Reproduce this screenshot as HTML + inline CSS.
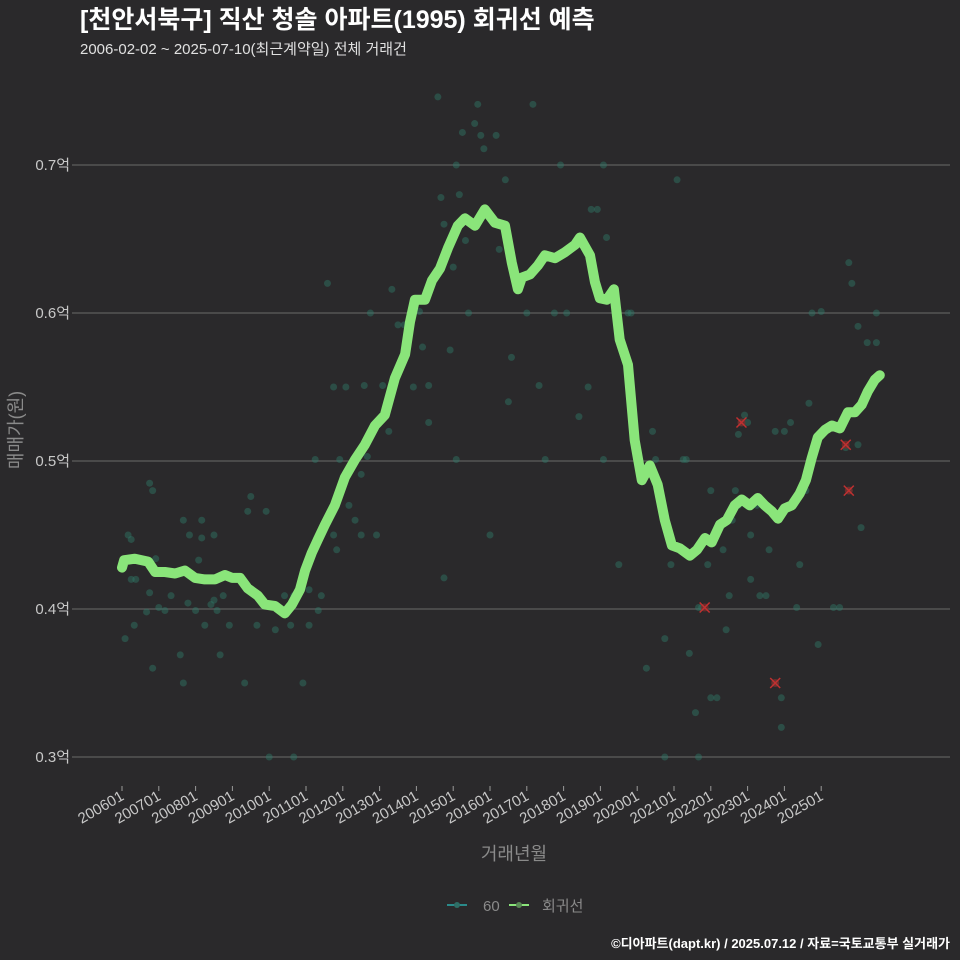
<!DOCTYPE html>
<html><head><meta charset="utf-8"><style>
body{margin:0;background:#2a292b;}
svg{display:block;font-family:"Liberation Sans","Noto Sans CJK KR",sans-serif;}
</style></head><body>
<svg id="chart" width="960" height="960" viewBox="0 0 960 960">
<rect width="960" height="960" fill="#2a292b"/>
<text x="80" y="28" font-size="25" font-weight="bold" fill="#ffffff">[천안서북구] 직산 청솔 아파트(1995) 회귀선 예측</text>
<text x="80" y="54" font-size="15" fill="#e0e0e0">2006-02-02 ~ 2025-07-10(최근계약일) 전체 거래건</text>
<g id="grid"></g><g id="yaxis"></g><g id="xaxis"></g><g id="dots"></g><g id="line"></g><g id="marks"></g>
<text transform="translate(22,430) rotate(-90)" text-anchor="middle" font-size="18" fill="#8a8a8a">매매가(원)</text>
<text x="514" y="860" text-anchor="middle" font-size="18" fill="#8a8a8a">거래년월</text>
<g>
<g><line x1="447" y1="905" x2="467" y2="905" stroke="#2a8a8a" stroke-width="2"/><circle cx="457" cy="905" r="3" fill="#2e6e66"/><text x="483" y="911" font-size="15" fill="#8a8a8a">60</text></g>
<g><line x1="509" y1="905" x2="529" y2="905" stroke="#8ae57a" stroke-width="2"/><circle cx="519" cy="905" r="3" fill="#5a8a55"/><text x="542" y="911" font-size="15" fill="#8a8a8a">회귀선</text></g>
</g>
<text x="950" y="948" text-anchor="end" font-size="13" font-weight="bold" fill="#ffffff">©디아파트(dapt.kr) / 2025.07.12 / 자료=국토교통부 실거래가</text>
</svg>
<script>
// months since 2006-01
const lineMonths=[0,0.7,4.2,8.5,10.8,14,17.3,20.5,23.8,27,30.3,33.6,35.9,38.5,41,44.3,46.6,49.9,53.1,55.4,58,59.7,61.9,63.9,66.2,69.4,72.7,76,79.2,82.5,85.7,89,92.3,93.9,95.5,98.8,101.1,103.7,106.3,109.5,111.8,115.1,118.3,121.6,124.9,127.1,129.1,130.4,133,135.6,137.9,141.2,144.4,147.7,149.3,152.6,154.2,155.8,158.1,160.4,162.3,165,167.2,169.5,172.1,174.7,177,179.3,181.9,185.2,187.5,190.1,192.3,195,197.2,199.8,202.1,204.7,207.3,209.6,211.9,213.9,216.1,218.4,221,223,224.9,226.9,229.2,231.5,234.1,236.7,239,241.2,243.2,245.5,247.1];
const lineValues=[0.428,0.433,0.434,0.432,0.425,0.425,0.424,0.426,0.421,0.420,0.420,0.423,0.421,0.421,0.414,0.409,0.403,0.402,0.397,0.403,0.413,0.426,0.438,0.447,0.457,0.470,0.489,0.501,0.511,0.524,0.531,0.556,0.572,0.594,0.609,0.609,0.622,0.630,0.644,0.659,0.664,0.659,0.670,0.661,0.659,0.634,0.616,0.624,0.626,0.632,0.639,0.637,0.641,0.646,0.651,0.639,0.621,0.610,0.609,0.616,0.582,0.565,0.514,0.487,0.497,0.484,0.460,0.443,0.441,0.436,0.440,0.448,0.445,0.457,0.460,0.470,0.474,0.470,0.475,0.470,0.466,0.461,0.468,0.470,0.478,0.487,0.502,0.516,0.521,0.524,0.522,0.533,0.533,0.538,0.547,0.555,0.558];
const dotMonths=[1,2,3,3,4,4.5,8,9,9,10,10,11,12,14,16,19,20,20,22,21.5,24,25,26,26,27,29,30,30,31,32,33,35,40,41,42,44,47,48,50,53,55,56,56,59,61,61,63,64,65,67,69,69,70,71,73,74,76,78,78,79,80,81,83,85,87,88,90,92,95,97,98,100,100,103,104,105,105,107,108,109,109,110,111,112,113,115,116,117,118,120,122,123,125,126,127,132,134,136,138,141,143,145,149,152,153,155,157,157,158,162,165,166,171,173,174,177,177,179,181,183,184,185,187,188,188,189,191,192,192,194,196,197,198,199,200,201,201,202,203,204,205,205,207,208,210,211,213,213,215,215,216,218,220,221,223,224,225,227,228,232,234,236,237,237,238,240,240,241,243,246,246];
const dotValues=[0.380,0.450,0.447,0.420,0.389,0.420,0.398,0.411,0.485,0.360,0.480,0.434,0.401,0.399,0.409,0.369,0.350,0.460,0.450,0.404,0.399,0.433,0.460,0.448,0.389,0.403,0.450,0.406,0.399,0.369,0.409,0.389,0.350,0.466,0.476,0.389,0.466,0.300,0.386,0.409,0.389,0.300,0.409,0.350,0.413,0.389,0.501,0.399,0.409,0.620,0.450,0.550,0.440,0.501,0.550,0.470,0.460,0.450,0.491,0.551,0.503,0.600,0.450,0.551,0.520,0.616,0.592,0.592,0.550,0.601,0.577,0.551,0.526,0.746,0.678,0.660,0.421,0.575,0.631,0.700,0.501,0.680,0.722,0.649,0.600,0.728,0.741,0.720,0.711,0.450,0.720,0.643,0.690,0.540,0.570,0.600,0.741,0.551,0.501,0.600,0.700,0.600,0.530,0.550,0.670,0.670,0.501,0.700,0.651,0.430,0.600,0.600,0.360,0.520,0.501,0.380,0.300,0.430,0.690,0.501,0.501,0.370,0.330,0.401,0.300,0.401,0.430,0.340,0.480,0.340,0.440,0.386,0.409,0.460,0.480,0.470,0.518,0.526,0.531,0.526,0.420,0.450,0.470,0.409,0.409,0.440,0.520,0.350,0.320,0.340,0.520,0.526,0.401,0.430,0.480,0.539,0.600,0.376,0.601,0.401,0.401,0.509,0.480,0.634,0.620,0.591,0.511,0.455,0.580,0.600,0.580];
const markMonths=[190,202,213,236,237];
const markValues=[0.401,0.526,0.350,0.511,0.480];
const yTicks=[0.3,0.4,0.5,0.6,0.7];
const yTickLabels=["0.3억","0.4억","0.5억","0.6억","0.7억"];
const xTickLabels=["200601","200701","200801","200901","201001","201101","201201","201301","201401","201501","201601","201701","201801","201901","202001","202101","202201","202301","202401","202501"];

const NS="http://www.w3.org/2000/svg";
const xS=m=>122+m*36.8/12;
const yS=v=>757-(v-0.3)*1480;
function mk(tag,attrs,parent){const e=document.createElementNS(NS,tag);for(const k in attrs)e.setAttribute(k,attrs[k]);document.getElementById(parent).appendChild(e);return e;}

yTicks.forEach((v,i)=>{
  const g=mk('line',{x1:72,x2:950,y1:yS(v),y2:yS(v),stroke:'#5e5e5e','stroke-width':1.2},'grid');
  
  
  const t=mk('text',{x:70,y:yS(v)+5,'text-anchor':'end','font-size':15,fill:'#c8c8c8'},'yaxis');
  t.textContent=yTickLabels[i];
  
  
});
xTickLabels.forEach((lab,i)=>{
  const x=xS(i*12);
  const tk=mk('line',{x1:x,x2:x,y1:786,y2:791,stroke:'#9a9a9a'},'xaxis');
  
  
  const t=mk('text',{transform:`translate(${x+3},${799}) rotate(-30)`,'text-anchor':'end','font-size':15,fill:'#c8c8c8'},'xaxis');
  t.textContent=lab;
  
  
});
dotMonths.forEach((m,i)=>{
  const c=mk('circle',{cx:xS(m),cy:yS(dotValues[i]),r:3.5,fill:'#2f7a68','fill-opacity':0.45},'dots');
  
  
});
const d=lineMonths.map((m,i)=>(i?'L':'M')+xS(m).toFixed(1)+','+yS(lineValues[i]).toFixed(1)).join(' ');
const p=mk('path',{d:d,fill:'none',stroke:'#8ae57a','stroke-width':10,'stroke-linejoin':'round','stroke-linecap':'round'},'line');


markMonths.forEach((m,i)=>{
  const x=xS(m),y=yS(markValues[i]);
  const c=mk('circle',{cx:x,cy:y,r:4,fill:'#7a2a2a','fill-opacity':0.8},'marks');
  
  
  const l=mk('path',{d:`M${x-5},${y-5}L${x+5},${y+5}M${x-5},${y+5}L${x+5},${y-5}`,stroke:'#c03030','stroke-width':1.5},'marks');
  
  
});
</script>
</body></html>
